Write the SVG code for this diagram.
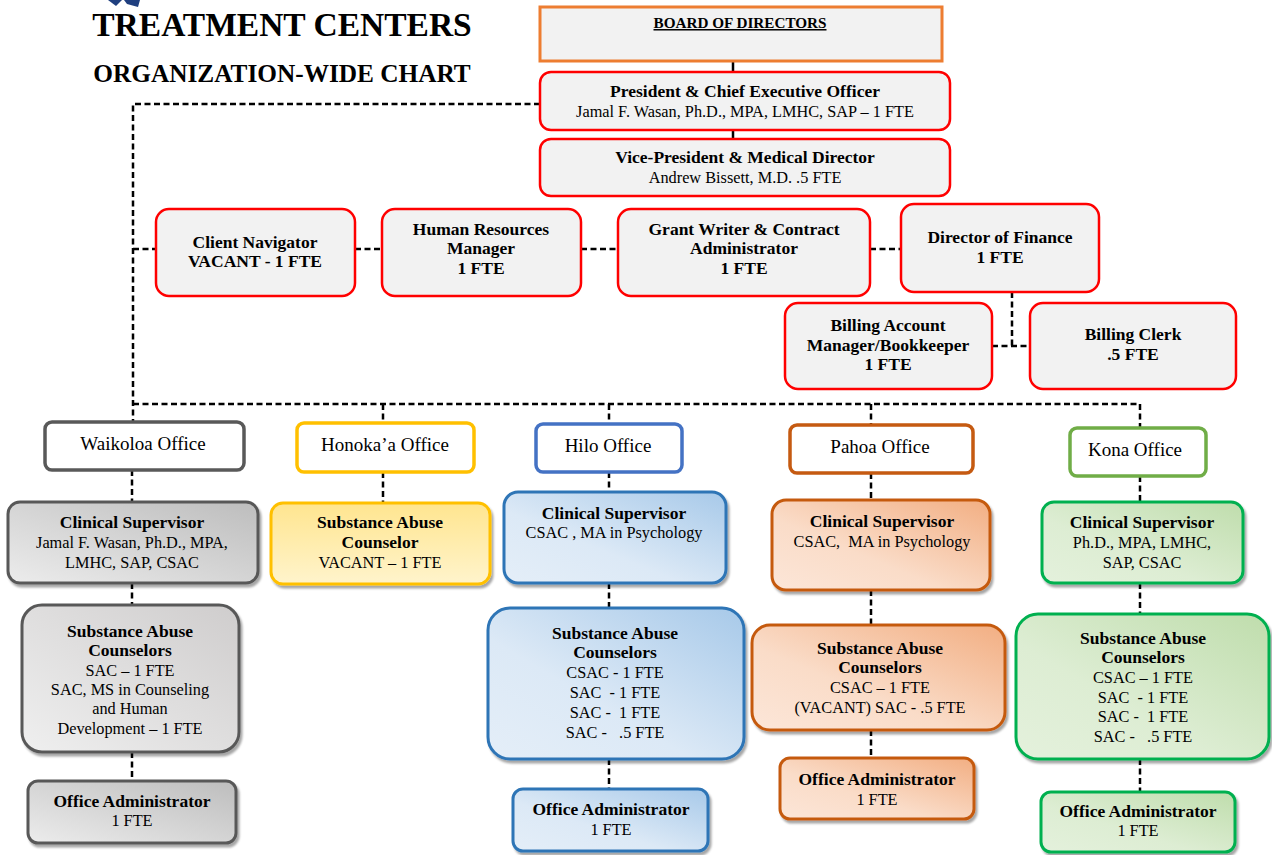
<svg xmlns="http://www.w3.org/2000/svg" width="1272" height="855" viewBox="0 0 1272 855">
<style>
text{font-family:"Liberation Serif","Times New Roman",serif;fill:#000;text-anchor:middle}
.b{font-weight:bold;font-size:17.5px}
.r{font-size:16.3px}
.off{font-size:19px}
.red{fill:#F2F2F2;stroke:#FF0000;stroke-width:2.5}
.ofc{fill:#FFFFFF;stroke-width:3.5}
.box{stroke-width:3}
.dash{fill:none;stroke:#000;stroke-width:2.5;stroke-dasharray:6 3.5}
.solid{fill:none;stroke:#000;stroke-width:2.5}
</style>
<defs>
<filter id="sh" x="-10%" y="-10%" width="125%" height="130%"><feDropShadow dx="2" dy="3" stdDeviation="1.2" flood-color="#000" flood-opacity="0.35"/></filter>
<linearGradient id="gGray" x1="1" y1="0" x2="0" y2="1"><stop offset="0" stop-color="#BDBDBD"/><stop offset="1" stop-color="#ECECEC"/></linearGradient>
<linearGradient id="gGray2" x1="1" y1="0" x2="0" y2="1"><stop offset="0" stop-color="#CFCDCD"/><stop offset="1" stop-color="#EFEFEF"/></linearGradient>
<linearGradient id="gYel" x1="0.5" y1="0" x2="0.5" y2="1"><stop offset="0" stop-color="#FFE58F"/><stop offset="1" stop-color="#FFF4CC"/></linearGradient>
<linearGradient id="gBlue" x1="1" y1="0" x2="0" y2="1"><stop offset="0" stop-color="#A7C9E9"/><stop offset="0.6" stop-color="#DCE9F6"/><stop offset="1" stop-color="#E4EEF8"/></linearGradient>
<linearGradient id="gOr" x1="1" y1="0" x2="0" y2="1"><stop offset="0" stop-color="#F2AE82"/><stop offset="0.6" stop-color="#FADCC8"/><stop offset="1" stop-color="#FCE6D8"/></linearGradient>
<linearGradient id="gGr" x1="1" y1="0" x2="0" y2="1"><stop offset="0" stop-color="#BFDDAC"/><stop offset="0.6" stop-color="#DDEDD3"/><stop offset="1" stop-color="#E4F1DC"/></linearGradient>
</defs>
<rect width="1272" height="855" fill="#FFFFFF"/>

<g id="logo-fragment" fill="#1F3F7F">
<path d="M108 0 L122 0 L116 6 Z"/>
<path d="M124 0 L140 0 L138 7 L127 4 Z"/>
</g>

<g id="title">
<text x="282" y="36" style="font-size:33.5px;font-weight:bold">TREATMENT CENTERS</text>
<text x="282" y="82" style="font-size:25.3px;font-weight:bold">ORGANIZATION-WIDE CHART</text>
</g>

<g id="connectors">
<line class="solid" x1="733" y1="61" x2="733" y2="72"/>
<line class="solid" x1="733" y1="131" x2="733" y2="139"/>
<polyline class="dash" points="540,104 133,104 133,422"/>
<line class="dash" x1="133" y1="249" x2="156" y2="249"/>
<line class="dash" x1="355" y1="249" x2="382" y2="249"/>
<line class="dash" x1="581" y1="249" x2="618" y2="249"/>
<line class="dash" x1="870" y1="249" x2="901" y2="249"/>
<polyline class="dash" points="1012,292 1012,346"/>
<line class="dash" x1="992" y1="346" x2="1030" y2="346"/>
<polyline class="dash" points="133,404 1140,404 1140,428"/>
<line class="dash" x1="383" y1="404" x2="383" y2="423"/>
<line class="dash" x1="609" y1="404" x2="609" y2="424"/>
<line class="dash" x1="871" y1="404" x2="871" y2="425"/>
<line class="dash" x1="132" y1="470" x2="132" y2="502"/>
<line class="dash" x1="132" y1="583" x2="132" y2="605"/>
<line class="dash" x1="132" y1="752" x2="132" y2="781"/>
<line class="dash" x1="383" y1="472" x2="383" y2="503"/>
<line class="dash" x1="609" y1="472" x2="609" y2="492"/>
<line class="dash" x1="609" y1="583" x2="609" y2="608"/>
<line class="dash" x1="609" y1="759" x2="609" y2="789"/>
<line class="dash" x1="871" y1="473" x2="871" y2="500"/>
<line class="dash" x1="871" y1="590" x2="871" y2="625"/>
<line class="dash" x1="871" y1="730" x2="871" y2="758"/>
<line class="dash" x1="1140" y1="476" x2="1140" y2="502"/>
<line class="dash" x1="1140" y1="583" x2="1140" y2="614"/>
<line class="dash" x1="1140" y1="759" x2="1140" y2="792"/>
</g>

<g id="board">
<rect x="540" y="7" width="402" height="54" fill="#F2F2F2" stroke="#ED7D31" stroke-width="3"/>
<text x="740" y="28" style="font-size:15.2px;font-weight:bold;text-decoration:underline">BOARD OF DIRECTORS</text>
</g>

<g id="ceo">
<rect class="red" x="540" y="72" width="410" height="58" rx="11"/>
<text class="b" x="745" y="97">President &amp; Chief Executive Officer</text>
<text class="r" x="745" y="117">Jamal F. Wasan, Ph.D., MPA, LMHC, SAP – 1 FTE</text>
</g>

<g id="vp">
<rect class="red" x="540" y="139" width="410" height="57" rx="11"/>
<text class="b" x="745" y="163">Vice-President &amp; Medical Director</text>
<text class="r" x="745" y="183">Andrew Bissett, M.D. .5 FTE</text>
</g>

<g id="client-navigator">
<rect class="red" x="156" y="209" width="199" height="87" rx="13"/>
<text class="b" x="255" y="248">Client Navigator</text>
<text class="b" x="255" y="267">VACANT - 1 FTE</text>
</g>

<g id="hr-manager">
<rect class="red" x="382" y="209" width="199" height="87" rx="13"/>
<text class="b" x="481" y="235">Human Resources</text>
<text class="b" x="481" y="254">Manager</text>
<text class="b" x="481" y="274">1 FTE</text>
</g>

<g id="grant-writer">
<rect class="red" x="618" y="209" width="252" height="87" rx="13"/>
<text class="b" x="744" y="235">Grant Writer &amp; Contract</text>
<text class="b" x="744" y="254">Administrator</text>
<text class="b" x="744" y="274">1 FTE</text>
</g>

<g id="director-finance">
<rect class="red" x="901" y="204" width="198" height="88" rx="13"/>
<text class="b" x="1000" y="243">Director of Finance</text>
<text class="b" x="1000" y="263">1 FTE</text>
</g>

<g id="billing-account">
<rect class="red" x="785" y="303" width="207" height="86" rx="13"/>
<text class="b" x="888" y="331">Billing Account</text>
<text class="b" x="888" y="351">Manager/Bookkeeper</text>
<text class="b" x="888" y="370">1 FTE</text>
</g>

<g id="billing-clerk">
<rect class="red" x="1030" y="303" width="206" height="86" rx="13"/>
<text class="b" x="1133" y="340">Billing Clerk</text>
<text class="b" x="1133" y="360">.5 FTE</text>
</g>

<g id="waikoloa-office">
<rect class="ofc" x="45" y="422" width="199" height="48" rx="7" stroke="#595959"/>
<text class="off" x="143" y="450">Waikoloa Office</text>
</g>
<g id="honokaa-office">
<rect class="ofc" x="297" y="423" width="177" height="49" rx="7" stroke="#FFC000"/>
<text class="off" x="385" y="451">Honoka’a Office</text>
</g>
<g id="hilo-office">
<rect class="ofc" x="536" y="424" width="146" height="48" rx="7" stroke="#4472C4"/>
<text class="off" x="608" y="452">Hilo Office</text>
</g>
<g id="pahoa-office">
<rect class="ofc" x="790" y="425" width="183" height="48" rx="7" stroke="#C55A11"/>
<text class="off" x="880" y="453">Pahoa Office</text>
</g>
<g id="kona-office">
<rect class="ofc" x="1070" y="428" width="136" height="48" rx="7" stroke="#70AD47"/>
<text class="off" x="1135" y="456">Kona Office</text>
</g>

<g id="waikoloa-clinical-supervisor">
<rect class="box" x="8" y="502" width="250" height="81" rx="12" fill="url(#gGray)" stroke="#595959" filter="url(#sh)"/>
<text class="b" x="132" y="528">Clinical Supervisor</text>
<text class="r" x="132" y="548">Jamal F. Wasan, Ph.D., MPA,</text>
<text class="r" x="132" y="568">LMHC, SAP, CSAC</text>
</g>
<g id="waikoloa-counselors">
<rect class="box" x="22" y="605" width="217" height="147" rx="20" fill="url(#gGray2)" stroke="#595959" filter="url(#sh)"/>
<text class="b" x="130" y="637">Substance Abuse</text>
<text class="b" x="130" y="656">Counselors</text>
<text class="r" x="130" y="676">SAC – 1 FTE</text>
<text class="r" x="130" y="695">SAC, MS in Counseling</text>
<text class="r" x="130" y="714">and Human</text>
<text class="r" x="130" y="734">Development – 1 FTE</text>
</g>
<g id="waikoloa-admin">
<rect class="box" x="28" y="781" width="208" height="62" rx="10" fill="url(#gGray)" stroke="#595959" filter="url(#sh)"/>
<text class="b" x="132" y="807">Office Administrator</text>
<text class="r" x="132" y="826">1 FTE</text>
</g>

<g id="honokaa-counselor">
<rect class="box" x="271" y="503" width="219" height="81" rx="12" fill="url(#gYel)" stroke="#FFC000" filter="url(#sh)"/>
<text class="b" x="380" y="528">Substance Abuse</text>
<text class="b" x="380" y="548">Counselor</text>
<text class="r" x="380" y="568">VACANT – 1 FTE</text>
</g>

<g id="hilo-clinical-supervisor">
<rect class="box" x="504" y="492" width="222" height="91" rx="14" fill="url(#gBlue)" stroke="#2E75B6" filter="url(#sh)"/>
<text class="b" x="614" y="519">Clinical Supervisor</text>
<text class="r" x="614" y="538" xml:space="preserve">CSAC , MA in Psychology</text>
</g>
<g id="hilo-counselors">
<rect class="box" x="488" y="608" width="256" height="151" rx="22" fill="url(#gBlue)" stroke="#2E75B6" filter="url(#sh)"/>
<text class="b" x="615" y="639">Substance Abuse</text>
<text class="b" x="615" y="658">Counselors</text>
<text class="r" x="615" y="678" xml:space="preserve">CSAC - 1 FTE</text>
<text class="r" x="615" y="698" xml:space="preserve">SAC  - 1 FTE</text>
<text class="r" x="615" y="718" xml:space="preserve">SAC -  1 FTE</text>
<text class="r" x="615" y="738" xml:space="preserve">SAC -   .5 FTE</text>
</g>
<g id="hilo-admin">
<rect class="box" x="513" y="789" width="195" height="62" rx="10" fill="url(#gBlue)" stroke="#2E75B6" filter="url(#sh)"/>
<text class="b" x="611" y="815">Office Administrator</text>
<text class="r" x="611" y="835">1 FTE</text>
</g>

<g id="pahoa-clinical-supervisor">
<rect class="box" x="772" y="500" width="218" height="90" rx="14" fill="url(#gOr)" stroke="#C55A11" filter="url(#sh)"/>
<text class="b" x="882" y="527">Clinical Supervisor</text>
<text class="r" x="882" y="547" xml:space="preserve">CSAC,  MA in Psychology</text>
</g>
<g id="pahoa-counselors">
<rect class="box" x="752" y="625" width="253" height="105" rx="18" fill="url(#gOr)" stroke="#C55A11" filter="url(#sh)"/>
<text class="b" x="880" y="654">Substance Abuse</text>
<text class="b" x="880" y="673">Counselors</text>
<text class="r" x="880" y="693">CSAC – 1 FTE</text>
<text class="r" x="880" y="713">(VACANT) SAC - .5 FTE</text>
</g>
<g id="pahoa-admin">
<rect class="box" x="780" y="758" width="194" height="61" rx="10" fill="url(#gOr)" stroke="#C55A11" filter="url(#sh)"/>
<text class="b" x="877" y="785">Office Administrator</text>
<text class="r" x="877" y="805">1 FTE</text>
</g>

<g id="kona-clinical-supervisor">
<rect class="box" x="1042" y="502" width="201" height="81" rx="12" fill="url(#gGr)" stroke="#00B050" filter="url(#sh)"/>
<text class="b" x="1142" y="528">Clinical Supervisor</text>
<text class="r" x="1142" y="548">Ph.D., MPA, LMHC,</text>
<text class="r" x="1142" y="568">SAP, CSAC</text>
</g>
<g id="kona-counselors">
<rect class="box" x="1016" y="614" width="253" height="145" rx="22" fill="url(#gGr)" stroke="#00B050" filter="url(#sh)"/>
<text class="b" x="1143" y="644">Substance Abuse</text>
<text class="b" x="1143" y="663">Counselors</text>
<text class="r" x="1143" y="683">CSAC – 1 FTE</text>
<text class="r" x="1143" y="703" xml:space="preserve">SAC  - 1 FTE</text>
<text class="r" x="1143" y="722" xml:space="preserve">SAC -  1 FTE</text>
<text class="r" x="1143" y="742" xml:space="preserve">SAC -   .5 FTE</text>
</g>
<g id="kona-admin">
<rect class="box" x="1041" y="792" width="194" height="60" rx="10" fill="url(#gGr)" stroke="#00B050" filter="url(#sh)"/>
<text class="b" x="1138" y="817">Office Administrator</text>
<text class="r" x="1138" y="836">1 FTE</text>
</g>
</svg>
